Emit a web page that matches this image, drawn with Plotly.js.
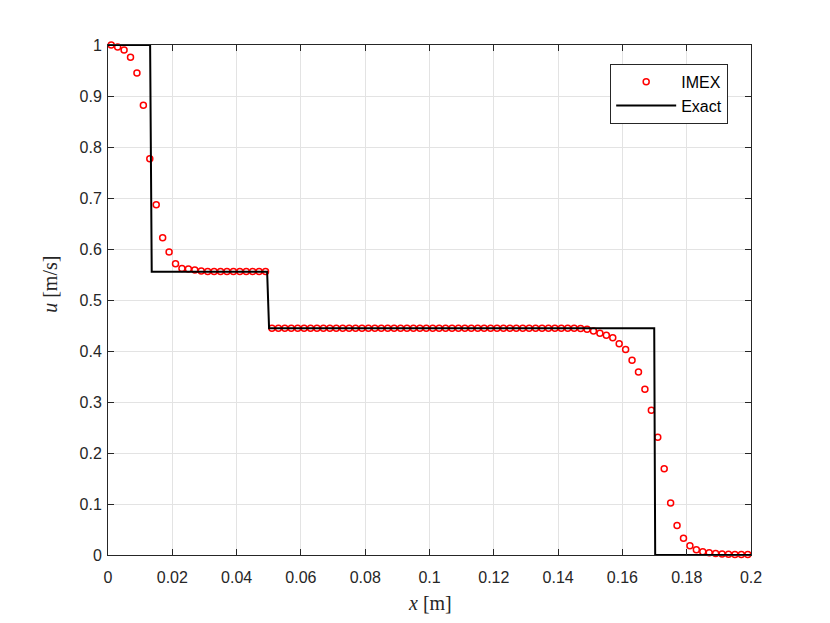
<!DOCTYPE html>
<html>
<head>
<meta charset="utf-8">
<script src="https://cdn.plot.ly/plotly-3.0.1.min.js"></script>
<style>html,body{margin:0;padding:0;background:#fff;}#chart{width:830px;height:623px;}</style>
</head>
<body>
<div id="chart"></div>
<script>
// IMEX numerical solution (cell centres)
const imexX = [0.001,0.003,0.005,0.007,0.009,0.011,0.013,0.015,0.017,0.019,
0.021,0.023,0.025,0.027,0.029,0.031,0.033,0.035,0.037,0.039,
0.041,0.043,0.045,0.047,0.049,0.051,0.053,0.055,0.057,0.059,
0.061,0.063,0.065,0.067,0.069,0.071,0.073,0.075,0.077,0.079,
0.081,0.083,0.085,0.087,0.089,0.091,0.093,0.095,0.097,0.099,
0.101,0.103,0.105,0.107,0.109,0.111,0.113,0.115,0.117,0.119,
0.121,0.123,0.125,0.127,0.129,0.131,0.133,0.135,0.137,0.139,
0.141,0.143,0.145,0.147,0.149,0.151,0.153,0.155,0.157,0.159,
0.161,0.163,0.165,0.167,0.169,0.171,0.173,0.175,0.177,0.179,
0.181,0.183,0.185,0.187,0.189,0.191,0.193,0.195,0.197,0.199];
const imexU = [1.000,0.996,0.990,0.976,0.945,0.882,0.777,0.687,0.622,0.594,
0.571,0.562,0.561,0.559,0.557,0.556,0.556,0.556,0.556,0.556,
0.556,0.556,0.556,0.556,0.556,0.4445,0.4445,0.4445,0.4445,0.4445,
0.4445,0.4445,0.4445,0.4445,0.4445,0.4445,0.4445,0.4445,0.4445,0.4445,
0.4445,0.4445,0.4445,0.4445,0.4445,0.4445,0.4445,0.4445,0.4445,0.4445,
0.4445,0.4445,0.4445,0.4445,0.4445,0.4445,0.4445,0.4445,0.4445,0.4445,
0.4445,0.4445,0.4445,0.4445,0.4445,0.4445,0.4445,0.4445,0.4445,0.4445,
0.4445,0.4445,0.4445,0.444,0.4425,0.439,0.435,0.431,0.426,0.414,
0.403,0.382,0.359,0.325,0.284,0.231,0.169,0.102,0.058,0.033,
0.018,0.0105,0.0065,0.0045,0.003,0.002,0.0015,0.001,0.001,0.001];

// Exact solution
const exactX = [0, 0.0131, 0.0136, 0.0495, 0.0501, 0.1699, 0.1702, 0.2];
const exactU = [1, 1, 0.5556, 0.5556, 0.4444, 0.4444, 0, 0];

const xTicks = [0,0.02,0.04,0.06,0.08,0.1,0.12,0.14,0.16,0.18,0.2];
const xTickText = ['0','0.02','0.04','0.06','0.08','0.1','0.12','0.14','0.16','0.18','0.2'];
const yTicks = [0,0.1,0.2,0.3,0.4,0.5,0.6,0.7,0.8,0.9,1];
const yTickText = ['0','0.1','0.2','0.3','0.4','0.5','0.6','0.7','0.8','0.9','1'];

const axisCol = '#262626';
const traces = [
  {x: imexX, y: imexU, type: 'scatter', mode: 'markers', name: 'IMEX',
   marker: {symbol: 'circle-open', color: '#ff0000', size: 6, line: {width: 1.5, color: '#ff0000'}},
   cliponaxis: false},
  {x: exactX, y: exactU, type: 'scatter', mode: 'lines', name: 'Exact',
   line: {color: '#000000', width: 2}}
];

const axBase = {
  showline: true, linecolor: axisCol, linewidth: 1, mirror: 'ticks',
  ticks: 'inside', ticklen: 6, tickcolor: axisCol, tickwidth: 1,
  showgrid: true, gridcolor: '#e3e3e3', gridwidth: 1, zeroline: false,
  tickfont: {family: 'Liberation Sans, Arial, sans-serif', size: 16, color: axisCol}
};

const layout = {
  width: 830, height: 623,
  margin: {l: 108, r: 79, t: 45, b: 68},
  paper_bgcolor: '#ffffff', plot_bgcolor: '#ffffff',
  showlegend: true,
  xaxis: Object.assign({}, axBase, {range: [0, 0.2], tickvals: xTicks, ticktext: xTickText, ticklabelstandoff: 8}),
  yaxis: Object.assign({}, axBase, {range: [0, 1], tickvals: yTicks, ticktext: yTickText, ticklabelstandoff: 2}),
  legend: {x: 0.781, y: 0.963, xanchor: 'left', yanchor: 'top',
    bgcolor: '#ffffff', bordercolor: axisCol, borderwidth: 1,
    font: {family: 'Liberation Sans, Arial, sans-serif', size: 16, color: '#000'},
    itemwidth: 60, tracegroupgap: 0},
  annotations: [
    {text: '<i>x</i> [m]', xref: 'paper', yref: 'paper', x: 0.5, y: -0.094, xanchor: 'center', yanchor: 'middle',
     showarrow: false, font: {family: 'Liberation Serif, Times New Roman, serif', size: 20, color: axisCol}},
    {text: '<i>u</i> [m/s]', xref: 'paper', yref: 'paper', x: -0.09, y: 0.53, xanchor: 'center', yanchor: 'middle',
     textangle: -90, showarrow: false, font: {family: 'Liberation Serif, Times New Roman, serif', size: 20, color: axisCol}}
  ]
};

Plotly.newPlot('chart', traces, layout, {displayModeBar: false, staticPlot: true});
</script>
</body>
</html>
